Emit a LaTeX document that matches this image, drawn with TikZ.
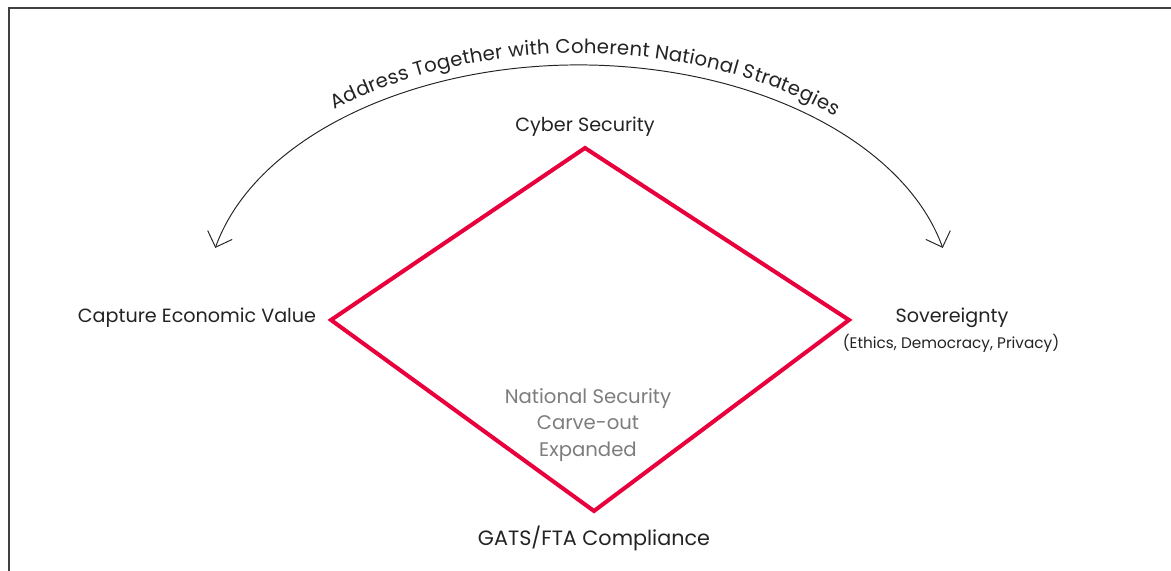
\documentclass[tikz,border=0pt]{standalone}
\usepackage{fontspec}
\setmainfont{Poppins}
\usetikzlibrary{arrows.meta,decorations.text}
\definecolor{diamondred}{RGB}{232,0,60}
\definecolor{notegray}{RGB}{125,125,125}
\definecolor{inkgray}{RGB}{35,35,35}
\tikzset{
  corner label/.style={text=inkgray,font=\fontsize{10.9}{12}\selectfont,inner sep=0pt},
  note label/.style={text=notegray,font=\fontsize{11.2}{15.2}\selectfont,align=center,inner sep=0pt},
  barb/.tip={Straight Barb[length=2.6mm,width=5.2mm]}
}
\begin{document}
\begin{tikzpicture}[x=0.02cm,y=-0.02cm]
	\useasboundingbox (0,0) rectangle (1171,571);
	% frame
	\draw[line width=1.1pt,black!75] (1171,8) -- (9,8) -- (9,571);
	% diamond
	\coordinate (cyber) at (585,148);
	\coordinate (sov) at (849,320);
	\coordinate (gats) at (594,511);
	\coordinate (capture) at (331,320);
	\draw[diamondred,line width=2.3pt,line join=miter] (cyber) -- (sov) -- (gats) -- (capture) -- cycle;
	% labels
	\node[corner label] (cyberlabel) at (585,127) {Cyber Security};
	\node[corner label] (capturelabel) at (197,318) {Capture Economic Value};
	\node[corner label] (sovlabel) at (952,318) {Sovereignty};
	\node[corner label,font=\fontsize{8.7}{10}\selectfont] (sovnote) at (951,343) {(Ethics, Democracy, Privacy)};
	\node[corner label,font=\fontsize{11.8}{12}\selectfont] (gatslabel) at (594,538) {GATS/FTA Compliance};
	\node[note label] (carveout) at (588,425) {National Security\\Carve-out\\Expanded};
	% arc over the top
	\coordinate (arcL) at (215.3,247.9);
	\draw[line width=0.55pt,inkgray,barb-barb] (arcL) arc[start angle=-167.2,end angle=-12.8,x radius=373,y radius=235];
	\path[decorate,decoration={text along path,text align={left indent=104pt},raise=6.5pt,
	    text={|\color{inkgray}\fontsize{11.2}{12}\selectfont|Address Together with Coherent National Strategies}}]
	    (arcL) arc[start angle=-167.2,end angle=-12.8,x radius=373,y radius=235];
\end{tikzpicture}
\end{document}
